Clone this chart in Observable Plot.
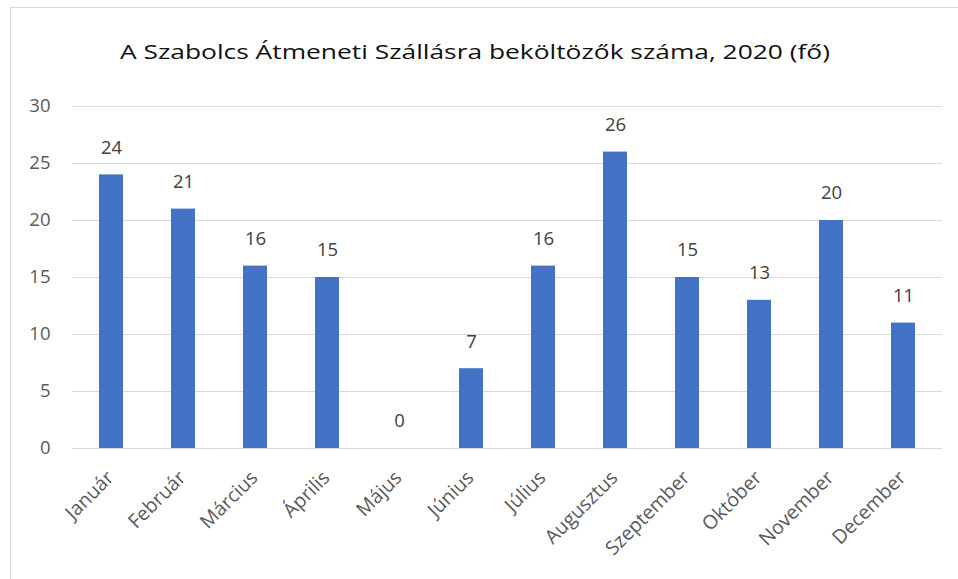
<!DOCTYPE html>
<html>
<head>
<meta charset="utf-8">
<script src="https://cdn.jsdelivr.net/npm/d3@7"></script>
<script src="https://cdn.jsdelivr.net/npm/@observablehq/plot@0.6"></script>
<style>
  html, body { margin: 0; padding: 0; background: #fff; }
  #wrap { position: relative; width: 958px; height: 579px; overflow: hidden; font-family: "Open Sans", sans-serif; }
  #frame { position: absolute; left: 10px; top: 7px; width: 960px; height: 600px; border-top: 1px solid #d9d9d9; border-left: 1px solid #d9d9d9; }
  #title { position: absolute; left: 120px; top: 38px; font-size: 20px; line-height: 28px; color: #111; white-space: nowrap; transform-origin: 0 0; }
  #chart { position: absolute; left: 0; top: 0; }
</style>
</head>
<body>
<div id="wrap">
  <div id="frame"></div>
  <div id="title">A Szabolcs Átmeneti Szállásra beköltözők száma, 2020 (fő)</div>
  <div id="chart"></div>
</div>
<script>
const months = ["Január","Február","Március","Április","Május","Június","Július","Augusztus","Szeptember","Október","November","December"];
const values = [24, 21, 16, 15, 0, 7, 16, 26, 15, 13, 20, 11];
const yTicks = [0, 5, 10, 15, 20, 25, 30];

const data = months.map((m, i) => ({month: m, value: values[i]}));

const chart = Plot.plot({
  width: 958,
  height: 579,
  marginLeft: 72,
  marginRight: 16,
  marginTop: 106,
  marginBottom: 131,
  style: {fontFamily: "'Open Sans', sans-serif", background: "transparent"},
  x: {domain: months, paddingInner: 0.67, paddingOuter: 0.335, axis: null},
  y: {domain: [0, 30], axis: null},
  marks: [
    Plot.gridY(yTicks, {stroke: "#d9d9d9", strokeOpacity: 1, strokeWidth: 1}),
    Plot.barY(data, {x: "month", y: "value", fill: "#4472C4"}),
    Plot.text(yTicks, {y: d => d, frameAnchor: "left", dx: -22, textAnchor: "end", fill: "#595959", fontSize: 18.5, text: d => String(d)}),
    Plot.text(data, {x: "month", y: "value", text: d => String(d.value), dy: -27, lineAnchor: "middle", fill: "#404040", fontSize: 18.5}),
    Plot.text(months, {x: d => d, frameAnchor: "bottom", dy: 26, dx: -1, rotate: -45, textAnchor: "end", lineAnchor: "middle", fill: "#595959", fontSize: 19.5, text: d => d})
  ]
});
document.getElementById("chart").appendChild(chart);

// fit title to the reference width
const t = document.getElementById("title");
const w = t.getBoundingClientRect().width;
t.style.transform = `scaleX(${710 / w})`;
</script>
</body>
</html>
